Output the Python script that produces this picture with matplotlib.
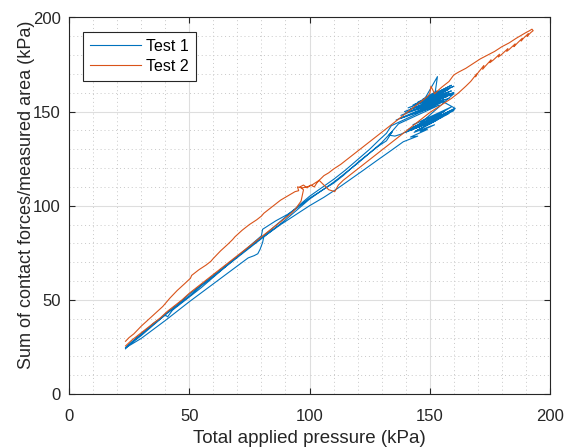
import matplotlib
matplotlib.use("Agg")
import matplotlib.pyplot as plt
from matplotlib.ticker import MultipleLocator

plt.rcParams['font.family'] = ['Liberation Sans', 'DejaVu Sans']

# ---------------- data ----------------
# Test 2 (orange), traced in four pieces
t2_lower_left_x = [23.5, 26, 29, 32, 35, 38, 41, 44, 47, 50, 53, 56, 59, 62, 65, 68, 71, 74, 77, 80, 83, 86, 89, 92, 94, 96.5]
t2_lower_left_y = [25.5, 28.5, 31.5, 34.5, 37.5, 40.5, 44, 47, 50, 53.5, 56.5, 59.5, 62.5, 65.5, 68.5, 71.5, 74.5, 77.5, 80.5,
                   83.5, 86.5, 89.5, 92.5, 95.5, 98, 102.5]
t2_upper_right_x = [97.5, 96, 97.5, 99, 100.5, 102, 103, 104, 106, 108, 110, 113, 116, 119, 122, 125, 128, 131, 134, 137, 140,
                    143, 146, 149, 150, 150.5, 152, 155, 158, 160, 162, 165, 168, 171, 174, 177, 180, 183, 186, 188, 190,
                    191.5, 192.5, 193]
t2_upper_right_y = [108.5, 110, 111, 109.5, 111, 110, 112, 113.5, 116, 117.5, 119.5, 122, 125, 128, 131, 134, 137, 140, 143, 146,
                    149, 152, 155, 158, 159.5, 163.5, 159.5, 163, 166, 169.5, 171, 173, 175.5, 178, 180, 182, 184.5, 186.5,
                    189, 190.5, 192, 193, 193.8, 193]
t2_lower_right_x = [192, 190.5, 191, 189, 188, 188.5, 186.5, 185, 185.5, 183, 182, 182.5, 180, 178.5, 179, 176.5, 175,
                    175.5, 173, 172, 172.5, 170, 169, 169.5, 167, 165, 162, 159, 156, 153, 150, 147, 144, 141, 138, 135,
                    132, 129, 126, 123, 120, 117, 114, 112, 110.5, 108, 104]
t2_lower_right_y = [192, 190, 191.5, 189, 187.5, 189, 186.5, 184.5, 186, 183, 182, 183.5, 180.5, 179, 180.5, 177.5, 176,
                    177.5, 174, 172.5, 174.5, 170.5, 168.5, 170, 166, 163.5, 160, 157, 154.5, 152, 149.5, 146.5, 143.5,
                    140.5, 137.5, 134.5, 131.5, 128.5, 125.5, 122.5, 119.5, 116.5, 113.5, 111, 107.5, 108.5, 113.5]
t2_upper_left_x = [101, 99, 97, 95, 95.5, 94, 92, 90, 88, 86, 84, 81, 80, 78, 75, 72, 69, 68, 66, 63, 60, 59, 57, 54, 51,
                   50.5, 48, 45, 42, 40, 39, 36, 33, 30, 27, 25, 23.5]
t2_upper_left_y = [111, 110, 109.5, 110, 108, 107.5, 106, 104.5, 103, 101, 99, 96, 94.5, 92.5, 90, 87, 83.5, 82, 79.5, 76,
                   72, 70.5, 68.5, 66, 63, 61.5, 58.5, 55, 51, 48, 46.5, 43, 39.5, 36, 32, 30, 28]

# Test 1 (blue), traced in seven pieces
t1_up1_x = [23.5, 27, 30, 33, 35, 38, 40, 42, 45, 50, 55, 60, 65, 70, 75, 80, 85, 90, 95, 100, 105, 110, 115, 120,
            125, 129, 132, 134]
t1_up1_y = [24.5, 28.5, 31.5, 35, 37.5, 40, 42.5, 44.5, 47.5, 53, 58, 63, 68, 73, 78, 83, 88.5, 94, 99.5, 105,
            109.5, 114, 119, 124.5, 130, 135, 138.5, 142.5]
t1_band_hi_x = [155, 136, 156, 138, 157, 139.5, 158, 141, 159, 143, 160, 145, 159, 148, 153.2, 152, 155, 150, 158,
                147, 157, 151, 160, 153]
t1_band_hi_y = [155, 145.5, 156.5, 148, 158, 150, 159.5, 152, 161, 153.5, 163.5, 155, 164, 157, 168.6, 158, 160, 156,
                162, 154, 158, 155, 160, 157]
t1_band_lo_x = [160.5, 142, 158, 144, 159, 143, 156, 141, 155, 145, 160, 146, 157, 142.5, 154, 140, 150]
t1_band_lo_y = [151.8, 140, 150, 141, 152.5, 143, 150, 140.5, 147, 141.5, 150.5, 143.5, 148.5, 141, 146.5, 139, 145]
t1_down1_x = [138, 135.5, 133, 134.5, 132, 129, 125, 121, 117, 114, 110, 105, 100, 95, 91, 86, 80.5, 80, 75, 70, 65,
              60, 55, 50, 45, 43, 41, 40, 35, 30, 27, 23.5]
t1_down1_y = [138, 137, 137.5, 139.5, 134.5, 132, 128, 124, 119.5, 116, 112, 108, 104, 99, 95.5, 92, 87.5, 84, 78.5,
              73, 67.5, 62, 56.5, 51.5, 46.5, 44.5, 41, 42, 36.5, 31, 28, 24.5]
t1_up2_x = [30, 40, 50, 60, 70, 74.5, 77, 78.5, 79.5, 80.5, 81, 85, 90, 95, 100, 105, 110, 115, 120, 125, 130, 134,
            137]
t1_up2_y = [29.5, 39, 49, 58.5, 68, 72.3, 73.5, 74.5, 77, 80.5, 83.5, 87.5, 92.5, 98, 103.5, 108, 112.5, 117.5, 122.5,
            128, 133.5, 139, 143.5]
t1_band2_x = [154, 138, 156, 140, 158, 142, 159, 144, 160, 147, 153, 151, 160, 145, 157, 143, 155, 141, 153, 144, 160.5,
              146, 158, 143.5, 152]
t1_band2_y = [153.5, 146.5, 155.5, 149.5, 157, 151.5, 159, 154, 160, 156.5, 161, 156, 159.5, 142.5, 149, 141.5, 148.5,
              140, 145.5, 139.5, 151.5, 143, 149, 139, 143]
t1_down2_x = [146, 149, 142, 145, 139, 133, 128, 122, 117, 112, 106, 100, 94, 88, 82, 78, 74, 70, 65, 60, 55, 50, 45,
              40, 35, 30, 26, 23.5]
t1_down2_y = [139.5, 140.5, 136.5, 137, 134, 128.5, 124, 118.5, 114, 109.5, 104.5, 100, 95, 90, 84.5, 80.5, 76.5,
              72.5, 67.5, 62.5, 57.5, 52, 47, 42, 37, 32, 27.5, 24]

test1_x = t1_up1_x + t1_band_hi_x + t1_band_lo_x + t1_down1_x + t1_up2_x + t1_band2_x + t1_down2_x
test1_y = t1_up1_y + t1_band_hi_y + t1_band_lo_y + t1_down1_y + t1_up2_y + t1_band2_y + t1_down2_y
test2_x = t2_lower_left_x + t2_upper_right_x + t2_lower_right_x + t2_upper_left_x
test2_y = t2_lower_left_y + t2_upper_right_y + t2_lower_right_y + t2_upper_left_y

xticks = [0, 50, 100, 150, 200]
yticks = [0, 50, 100, 150, 200]
series_labels = ['Test 1', 'Test 2']

# ---------------- figure ----------------
fig = plt.figure(figsize=(5.66, 4.48), dpi=100)
ax_bottom_px, ax_top_px = 394.0, 17.5
ax = fig.add_axes([69 / 566, 1 - ax_bottom_px / 448, 481 / 566, (ax_bottom_px - ax_top_px) / 448])

ax.plot(test1_x, test1_y, color='#0072BD', lw=0.8, label=series_labels[0])
ax.plot(test2_x, test2_y, color='#D95319', lw=0.8, label=series_labels[1])

ax.set_xlim(0, 200)
ax.set_ylim(0, 200)
ax.set_xticks(xticks)
ax.set_yticks(yticks)
ax.xaxis.set_minor_locator(MultipleLocator(10))
ax.yaxis.set_minor_locator(MultipleLocator(10))
ax.grid(True, which='major', color='#dedede', lw=0.8, ls='-')
ax.grid(True, which='minor', color='#c8c8c8', lw=0.7, ls=(0, (1, 3)))
ax.set_axisbelow(True)

ax.tick_params(which='major', direction='in', length=4, width=0.8, top=True, right=True,
               labelsize=12, colors='#262626')
ax.tick_params(axis='x', which='major', pad=10.5)
ax.tick_params(axis='y', which='major', pad=6)
ax.tick_params(which='minor', length=0, top=True, right=True)
for s in ax.spines.values():
    s.set_color('#262626')
    s.set_linewidth(0.8)

ax.set_xlabel('Total applied pressure (kPa)', fontsize=13.5, color='#262626')
ax.set_ylabel('Sum of contact forces/measured area (kPa)', fontsize=13, color='#262626')
ax.xaxis.set_label_coords(0.5, -0.095)
ax.yaxis.set_label_coords(-0.0717, 0.53)

leg = ax.legend(loc='upper left', bbox_to_anchor=(0.029, 0.962), borderaxespad=0, fontsize=11.5,
                handlelength=3.2, frameon=True, fancybox=False, edgecolor='#262626', framealpha=1,
                borderpad=0.45, labelspacing=0.3, handletextpad=0.3)
leg.get_frame().set_linewidth(0.8)

fig.savefig('out.png', dpi=100)
